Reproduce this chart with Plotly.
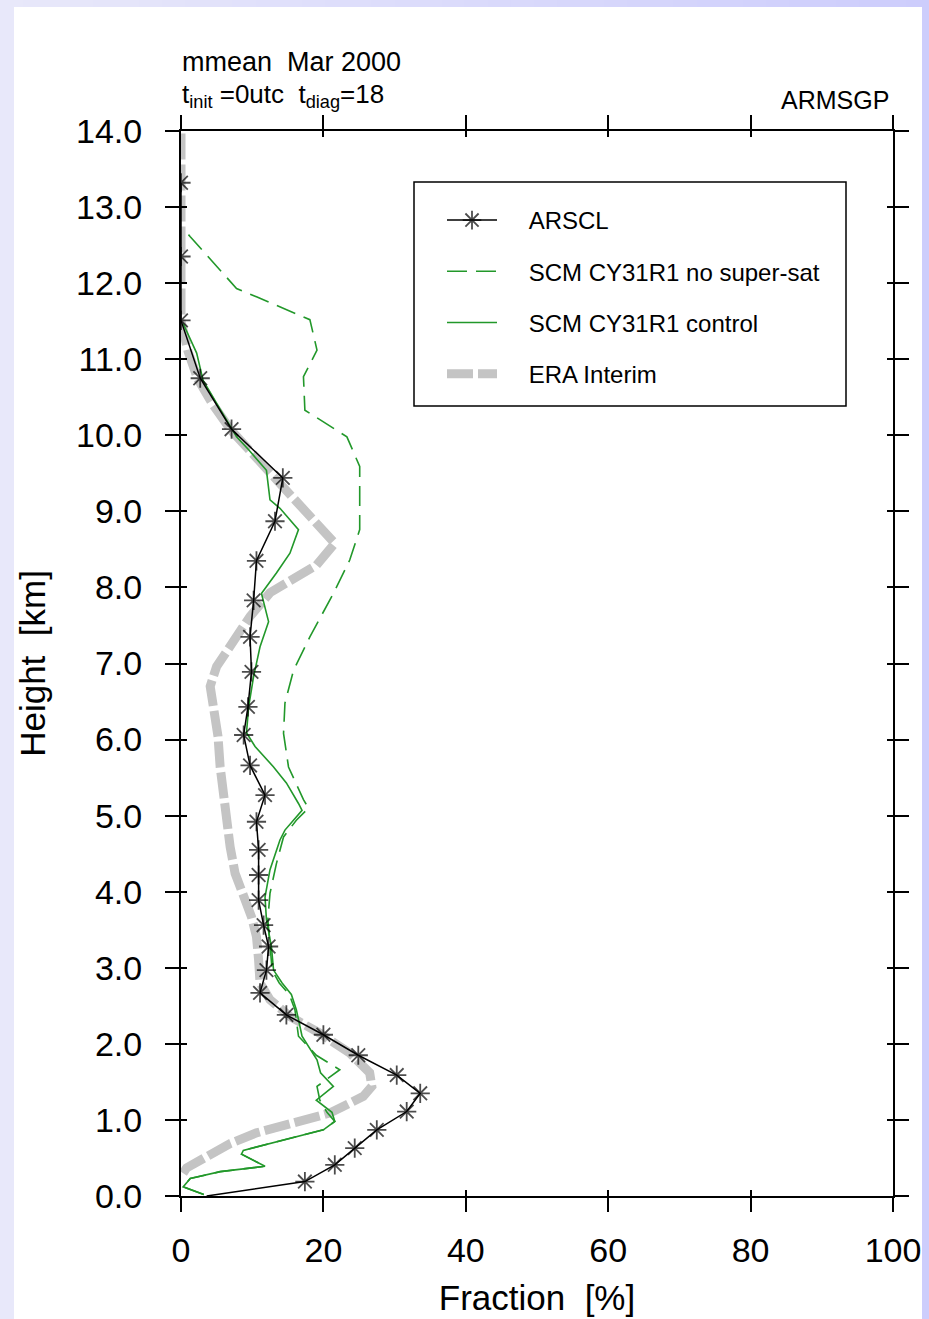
import plotly.graph_objects as go

# ---------------- data ----------------
x_tick_vals = [0, 20, 40, 60, 80, 100]
x_tick_text = ["0", "20", "40", "60", "80", "100"]
y_tick_vals = [0, 1, 2, 3, 4, 5, 6, 7, 8, 9, 10, 11, 12, 13, 14]
y_tick_text = ["0.0", "1.0", "2.0", "3.0", "4.0", "5.0", "6.0", "7.0",
               "8.0", "9.0", "10.0", "11.0", "12.0", "13.0", "14.0"]

arscl_height = [0.0, 0.19, 0.41, 0.63, 0.87, 1.11, 1.35, 1.59, 1.85, 2.12,
                2.38, 2.67, 2.97, 3.28, 3.56, 3.89, 4.22, 4.55, 4.92, 5.27,
                5.66, 6.06, 6.43, 6.89, 7.35, 7.83, 8.35, 8.87, 9.44, 10.08,
                10.75, 11.51, 12.35, 13.32]
arscl_frac = [3.6, 17.4, 21.6, 24.4, 27.5, 31.7, 33.6, 30.3, 24.9, 20.0,
              14.8, 11.1, 12.0, 12.3, 11.6, 10.9, 10.9, 10.9, 10.6, 11.8,
              9.7, 8.8, 9.4, 9.9, 9.7, 10.2, 10.6, 13.2, 14.3, 7.1,
              2.7, 0.0, 0.0, 0.0]

nosat_height = [0.02, 0.12, 0.23, 0.32, 0.39, 0.55, 0.60, 0.87, 0.98, 1.10,
                1.26, 1.44, 1.66, 1.85, 2.10, 2.45, 2.65, 2.80, 2.97, 3.28,
                3.63, 3.98, 4.37, 4.72, 4.94, 5.10, 5.21, 5.64, 6.08, 6.48,
                6.91, 7.35, 7.92, 8.36, 8.76, 9.59, 9.68, 9.98, 10.33, 10.77,
                11.12, 11.52, 11.82, 11.93, 12.61, 12.72]
nosat_frac = [3.2, 0.3, 1.3, 5.5, 11.8, 8.5, 8.75, 20.0, 21.6, 20.5,
              19.5, 19.1, 22.3, 19.0, 16.5, 16.0, 15.2, 13.8, 12.8, 12.5,
              12.2, 12.5, 13.4, 14.4, 16.2, 17.9, 17.2, 15.1, 14.4, 14.6,
              15.8, 18.1, 21.4, 23.7, 25.1, 25.1, 24.7, 23.3, 17.4, 17.2,
              19.1, 18.1, 10.6, 7.8, 1.3, 0.3]

control_height = [0.02, 0.12, 0.23, 0.32, 0.39, 0.55, 0.60, 0.87, 0.98, 1.10,
                  1.26, 1.44, 1.62, 1.79, 2.10, 2.45, 2.65, 2.80, 2.97, 3.28,
                  3.63, 3.93, 4.29, 4.68, 4.81, 5.07, 5.16, 5.43, 5.64, 5.91,
                  6.09, 6.43, 6.83, 7.22, 7.55, 7.92, 8.19, 8.45, 8.76, 9.04,
                  9.15, 9.54, 9.81, 9.98, 10.72, 11.08, 11.47]
control_frac = [3.2, 0.3, 1.3, 5.5, 11.8, 8.5, 8.75, 20.0, 21.6, 21.2,
                19.0, 21.4, 19.6, 19.1, 17.0, 16.2, 15.5, 14.2, 13.0, 12.7,
                12.0, 11.8, 12.5, 13.9, 14.6, 17.0, 16.5, 14.8, 13.0, 10.4,
                9.2, 9.5, 10.2, 11.1, 12.3, 11.3, 13.4, 15.3, 16.5, 13.9,
                12.5, 12.0, 9.5, 7.8, 3.1, 2.2, 0.3]

era_height = [0.30, 0.37, 0.47, 0.56, 0.69, 0.83, 0.96, 1.09, 1.31, 1.44,
              1.62, 1.88, 2.14, 2.36, 2.58, 2.80, 3.10, 3.41, 3.67, 3.93,
              4.24, 4.59, 4.94, 5.25, 5.64, 6.04, 6.39, 6.70, 6.96, 7.31,
              7.62, 7.93, 8.29, 8.58, 9.10, 9.60, 10.07, 10.40, 10.75, 11.10,
              11.50, 12.35, 13.30, 14.0]
era_frac = [0.3, 0.8, 2.7, 4.5, 6.9, 10.6, 15.3, 20.9, 25.6, 26.8,
            26.5, 23.7, 19.5, 15.3, 12.5, 11.1, 10.9, 10.6, 9.9, 8.8,
            7.6, 6.9, 6.4, 5.9, 5.5, 5.2, 4.5, 4.1, 5.0, 7.3,
            9.7, 12.5, 19.0, 21.6, 16.5, 12.0, 7.0, 4.5, 2.3, 1.0,
            0.0, 0.0, 0.0, 0.0]

series_names = ["ARSCL", "SCM CY31R1 no super-sat", "SCM CY31R1 control", "ERA Interim"]

# ---------------- figure ----------------
W, H = 929, 1319
PL, PR, PT, PB = 181, 893, 131, 1196   # plot area in pixels
FONT = "Liberation Sans, Arial, Helvetica, sans-serif"
GREEN = "#22982a"
LEG_PAD = "\u00a0\u00a0\u00a0\u00a0"   # gap between legend key and label

def px2paper_x(px):
    return (px - PL) / (PR - PL)

def px2paper_y(py):
    return (PB - py) / (PB - PT)

fig = go.Figure()

fig.add_trace(go.Scatter(
    x=era_frac, y=era_height, mode="lines", name=LEG_PAD + series_names[3],
    line=dict(color="#c4c4c4", width=9, dash="26px,5px"),
    legendgroup="d", legendrank=4))
fig.add_trace(go.Scatter(
    x=nosat_frac, y=nosat_height, mode="lines", name=LEG_PAD + series_names[1],
    line=dict(color=GREEN, width=1.6, dash="20px,9px"),
    legendgroup="b", legendrank=2))
fig.add_trace(go.Scatter(
    x=control_frac, y=control_height, mode="lines", name=LEG_PAD + series_names[2],
    line=dict(color=GREEN, width=1.6),
    legendgroup="c", legendrank=3))
fig.add_trace(go.Scatter(
    x=arscl_frac, y=arscl_height, mode="lines+markers", name=LEG_PAD + series_names[0],
    line=dict(color="black", width=1.5),
    marker=dict(symbol="asterisk-open", size=[0] + [16] * (len(arscl_height) - 1),
                line=dict(color="black", width=1.8), color="black"),
    legendgroup="a", legendrank=1))

axis_common = dict(showline=True, linecolor="black", linewidth=2,
                   mirror="allticks", showgrid=False, zeroline=False,
                   automargin=False)

fig.update_layout(
    width=W, height=H, autosize=False,
    margin=dict(l=PL, r=W - PR, t=PT, b=H - PB, pad=0, autoexpand=False),
    paper_bgcolor="#e6e6fa", plot_bgcolor="white",
    font=dict(family=FONT, color="black"),
    xaxis=dict(range=[0, 100], tickvals=x_tick_vals, ticktext=x_tick_text,
               ticks="outside", ticklen=14, tickwidth=1.5, tickcolor="black",
               tickfont=dict(size=34), ticklabelstandoff=9,
               title=dict(text="Fraction\u00a0\u00a0[%]", font=dict(size=35), standoff=18),
               **axis_common),
    yaxis=dict(range=[0, 14], tickvals=y_tick_vals, ticktext=y_tick_text,
               ticks="outside", ticklen=14, tickwidth=1.5, tickcolor="black",
               tickfont=dict(size=34), ticklabelstandoff=16,
               title=dict(text="Height\u00a0\u00a0[km]", font=dict(size=35), standoff=20),
               **axis_common),
    xaxis2=dict(range=[0, 100], tickvals=x_tick_vals, overlaying="x", anchor="y2",
                ticks="inside", ticklen=6, tickwidth=1.5, tickcolor="black",
                showticklabels=False, mirror="allticks", showline=False,
                showgrid=False, zeroline=False, automargin=False),
    yaxis2=dict(range=[0, 14], tickvals=y_tick_vals, overlaying="y", anchor="x2",
                ticks="inside", ticklen=6, tickwidth=1.5, tickcolor="black",
                showticklabels=False, mirror="allticks", showline=False,
                showgrid=False, zeroline=False, automargin=False),
    legend=dict(x=px2paper_x(442), y=px2paper_y(198), xanchor="left", yanchor="top",
                bgcolor="rgba(0,0,0,0)", borderwidth=0,
                font=dict(size=24, family=FONT), itemwidth=50,
                tracegroupgap=17, traceorder="grouped"),
    showlegend=True,
)

# empty trace so the overlay (inside-tick) axes get drawn
fig.add_trace(go.Scatter(x=[None], y=[None], xaxis="x2", yaxis="y2", showlegend=False,
                         mode="lines", hoverinfo="skip"))

# ---------------- background frame (lavender gradient + white panel) ----------------
shapes = []
n = 40
c0 = (232, 232, 250)
c1 = (205, 205, 252)
for i in range(n):
    t = i / (n - 1)
    col = "rgb(%d,%d,%d)" % tuple(round(a + (b - a) * t) for a, b in zip(c0, c1))
    shapes.append(dict(type="rect", xref="paper", yref="paper", layer="below",
                       x0=px2paper_x(i * W / n), x1=px2paper_x((i + 1) * W / n + 1),
                       y0=px2paper_y(H + 5), y1=px2paper_y(-5),
                       line=dict(width=0), fillcolor=col))
shapes.append(dict(type="rect", xref="paper", yref="paper", layer="below",
                   x0=px2paper_x(14), x1=px2paper_x(922),
                   y0=px2paper_y(H + 5), y1=px2paper_y(7),
                   line=dict(width=0), fillcolor="white"))
# legend frame
shapes.append(dict(type="rect", xref="paper", yref="paper", layer="above",
                   x0=px2paper_x(414), x1=px2paper_x(846),
                   y0=px2paper_y(406), y1=px2paper_y(182),
                   line=dict(width=1.5, color="black"), fillcolor="rgba(0,0,0,0)"))
fig.update_layout(shapes=shapes)

# ---------------- header texts ----------------
fig.add_annotation(text="mmean\u00a0\u00a0Mar 2000", xref="paper", yref="paper",
                   x=px2paper_x(180), y=px2paper_y(62), xanchor="left", yanchor="middle",
                   showarrow=False, font=dict(size=27, family=FONT))
fig.add_annotation(text="t<sub>init</sub> =0utc\u00a0\u00a0t<sub>diag</sub>=18",
                   xref="paper", yref="paper",
                   x=px2paper_x(180), y=px2paper_y(95), xanchor="left", yanchor="middle",
                   showarrow=False, font=dict(size=26, family=FONT))
fig.add_annotation(text="ARMSGP", xref="paper", yref="paper",
                   x=px2paper_x(891), y=px2paper_y(100), xanchor="right", yanchor="middle",
                   showarrow=False, font=dict(size=25, family=FONT))

fig.write_html("out.html", config={"displayModeBar": False},
               post_script="document.body.style.margin='0';document.body.style.overflow='hidden';")
